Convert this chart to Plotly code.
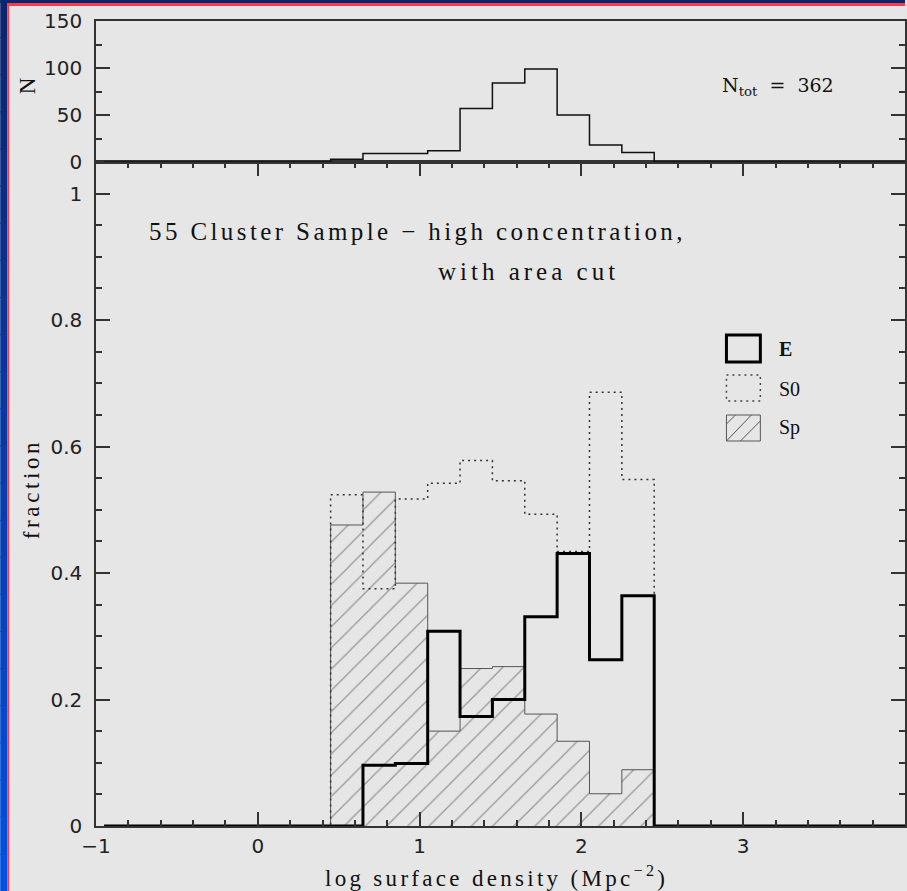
import plotly.graph_objects as go

# bin edges of the histograms (log surface density, Mpc^-2)
bin_edges = [-0.95, -0.75, -0.55, -0.35, -0.15, 0.05, 0.25, 0.45, 0.65, 0.85,
             1.05, 1.25, 1.45, 1.65, 1.85, 2.05, 2.25, 2.45, 2.65, 2.85,
             3.05, 3.25, 3.45, 3.65, 3.85, 4.05]

# galaxies per bin (top panel)
n_gal = [0, 0, 0, 0, 0, 0, 0,
         3, 9, 9, 12, 57, 84, 99, 50, 18, 10,
         0, 0, 0, 0, 0, 0, 0, 0]

# morphological fractions per bin
frac_e = [0, 0, 0, 0, 0, 0, 0,
          0.0, 0.096, 0.099, 0.308, 0.173, 0.200, 0.331, 0.431, 0.263, 0.364,
          0, 0, 0, 0, 0, 0, 0, 0]
frac_s0 = [0, 0, 0, 0, 0, 0, 0,
           0.524, 0.375, 0.517, 0.542, 0.578, 0.546, 0.493, 0.434, 0.686, 0.548,
           0, 0, 0, 0, 0, 0, 0, 0]
frac_sp = [0, 0, 0, 0, 0, 0, 0,
           0.476, 0.528, 0.384, 0.150, 0.249, 0.252, 0.177, 0.134, 0.051, 0.089,
           0, 0, 0, 0, 0, 0, 0, 0]

x_ticks = [-1, 0, 1, 2, 3, 4]
n_total = 362

W, H = 907, 891
PLOT_L, PLOT_R, PLOT_T, PLOT_B = 96, 907, 21, 826
SPLIT = 162  # pixel row where the two panels meet

BG = "#e6e6e6"
AXIS = "#333333"
SERIF = "Liberation Serif"
SANS = "DejaVu Sans"
INK = "#111111"


def px_x(px):
    return (px - PLOT_L) / (PLOT_R - PLOT_L)


def px_y(py):
    return (PLOT_B - py) / (PLOT_B - PLOT_T)


def steps(values):
    """Repeat the last value so an 'hv' line closes the final bin."""
    return values + [values[-1]]


def spaced(text, px=2.4):
    return f'<span style="letter-spacing:{px}px">{text}</span>'


fig = go.Figure()

fig.add_trace(go.Scatter(
    x=bin_edges, y=steps(frac_sp), mode="lines", line_shape="hv",
    line=dict(color="#555555", width=1),
    fill="tozeroy", fillcolor="rgba(0,0,0,0)",
    fillpattern=dict(shape="/", size=15, solidity=0.08,
                     fgcolor="#444444", bgcolor="rgba(0,0,0,0)"),
    xaxis="x", yaxis="y", showlegend=False,
))
fig.add_trace(go.Scatter(
    x=bin_edges, y=steps(frac_s0), mode="lines", line_shape="hv",
    line=dict(color="#333333", width=1.5, dash="2px,4px"),
    xaxis="x", yaxis="y", showlegend=False,
))
fig.add_trace(go.Scatter(
    x=bin_edges, y=steps(frac_e), mode="lines", line_shape="hv",
    line=dict(color="#000000", width=3),
    xaxis="x", yaxis="y", showlegend=False,
))
fig.add_trace(go.Scatter(
    x=bin_edges, y=steps(n_gal), mode="lines", line_shape="hv",
    line=dict(color="#111111", width=1.5),
    xaxis="x2", yaxis="y2", showlegend=False,
))

split = px_y(SPLIT)
tick_font = dict(family=SANS, size=20, color="#222222")
common_axis = dict(showgrid=False, zeroline=False, showline=True,
                   linecolor=AXIS, linewidth=1.5, mirror="ticks",
                   ticks="inside", tickcolor=AXIS, tickwidth=1.5,
                   tickfont=tick_font)

fig.update_layout(
    width=W, height=H,
    paper_bgcolor=BG, plot_bgcolor=BG,
    margin=dict(l=PLOT_L, r=W - PLOT_R, t=PLOT_T, b=H - PLOT_B),
    xaxis=dict(common_axis, range=[-1, 4], tickvals=x_ticks, ticklen=14,
               minor=dict(dtick=0.2, tick0=0, ticklen=6, ticks="inside",
                          tickcolor=AXIS, tickwidth=1.5),
               anchor="y", ticklabelstandoff=1),
    yaxis=dict(common_axis, range=[0, 1.05], domain=[0, split],
               tickvals=[0, 0.2, 0.4, 0.6, 0.8, 1],
               ticktext=["0", "0.2", "0.4", "0.6", "0.8", "1"], ticklen=14,
               minor=dict(dtick=0.05, tick0=0, ticklen=6, ticks="inside",
                          tickcolor=AXIS, tickwidth=1.5),
               anchor="x", ticklabelstandoff=8),
    xaxis2=dict(showgrid=False, zeroline=False, showline=True, mirror=True,
                linecolor=AXIS, linewidth=1.5, matches="x", range=[-1, 4],
                showticklabels=False, ticks="", anchor="y2"),
    yaxis2=dict(common_axis, range=[0, 150], domain=[split, 1],
                tickvals=[0, 50, 100, 150], ticklen=14,
                minor=dict(dtick=25, tick0=0, ticklen=6, ticks="inside",
                           tickcolor=AXIS, tickwidth=1.5),
                anchor="x2", ticklabelstandoff=8),
)

text_font = dict(family=SERIF, size=25, color=INK)
label_font = dict(family=SERIF, size=23, color=INK)
key_font = dict(family=SERIF, size=20, color=INK)
annotations = [
    dict(text=spaced("55 Cluster Sample − high concentration,", 3.4),
         x=px_x(147), y=px_y(231), xanchor="left", yanchor="middle", font=text_font),
    dict(text=spaced("with area cut", 4.0), x=px_x(437), y=px_y(272),
         xanchor="left", yanchor="middle", font=text_font),
    dict(text=f"N<sub>tot</sub>  =  {n_total}", x=px_x(722), y=px_y(86),
         xanchor="left", yanchor="middle", font=dict(family="DejaVu Serif", size=19, color=INK)),
    dict(text="N", x=px_x(27), y=px_y(86), textangle=-90,
         xanchor="center", yanchor="middle", font=label_font),
    dict(text=spaced("fraction", 3.6), x=px_x(32), y=px_y(489), textangle=-90,
         xanchor="center", yanchor="middle", font=label_font),
    dict(text=spaced("log surface density (Mpc<sup>−2</sup>)", 3.3),
         x=px_x(497), y=px_y(877), xanchor="center", yanchor="middle", font=label_font),
    dict(text="<b>E</b>", x=px_x(779), y=px_y(349),
         xanchor="left", yanchor="middle", font=key_font),
    dict(text="S0", x=px_x(779), y=px_y(389),
         xanchor="left", yanchor="middle", font=key_font),
    dict(text="Sp", x=px_x(779), y=px_y(427),
         xanchor="left", yanchor="middle", font=key_font),
]
for a in annotations:
    a.update(xref="paper", yref="paper", showarrow=False)
fig.update_layout(annotations=annotations)


def rect(x0, y0, x1, y1, **kw):
    return dict(type="rect", xref="paper", yref="paper", layer="above",
                x0=px_x(x0), x1=px_x(x1), y0=px_y(y0), y1=px_y(y1), **kw)


def seg(x0, y0, x1, y1, **kw):
    return dict(type="line", xref="paper", yref="paper", layer="above",
                x0=px_x(x0), x1=px_x(x1), y0=px_y(y0), y1=px_y(y1), **kw)


shapes = [
    # legend boxes
    rect(728, 335, 762, 362, line=dict(color="#000000", width=3)),
    rect(728, 375, 762, 401, line=dict(color="#444444", width=1.5, dash="2px,4px")),
    rect(728, 415, 762, 441, line=dict(color="#555555", width=1)),
    seg(728, 441, 753, 415, line=dict(color="#555555", width=1)),
    seg(742, 441, 762, 421, line=dict(color="#555555", width=1)),
    seg(728, 424, 737, 415, line=dict(color="#555555", width=1)),
]

# slide frame: navy-to-blue strip on the left, red rule, navy band on top
navy = (10, 38, 110)
blue = (0, 80, 225)
bands = 24
for i in range(bands):
    t = i / (bands - 1)
    c = tuple(round(navy[k] + (blue[k] - navy[k]) * t) for k in range(3))
    y0 = H * i / bands
    shapes.append(rect(0, y0, 7, y0 + H / bands + 1, fillcolor=f"rgb{c}",
                       line=dict(width=0)))
shapes.append(rect(0, 0, W, 3, fillcolor="rgb(10,38,110)", line=dict(width=0)))
shapes.append(rect(7, 3, W, 6, fillcolor="#ff3b4a", line=dict(width=0)))
shapes.append(rect(7, 3, 9, H, fillcolor="#ff3b4a", line=dict(width=0)))
fig.update_layout(shapes=shapes)

# the page's default 8px body margin would shift the figure off the frame
fig.write_html("out.html", config={"displayModeBar": False},
               post_script="document.body.style.margin='0px';")
